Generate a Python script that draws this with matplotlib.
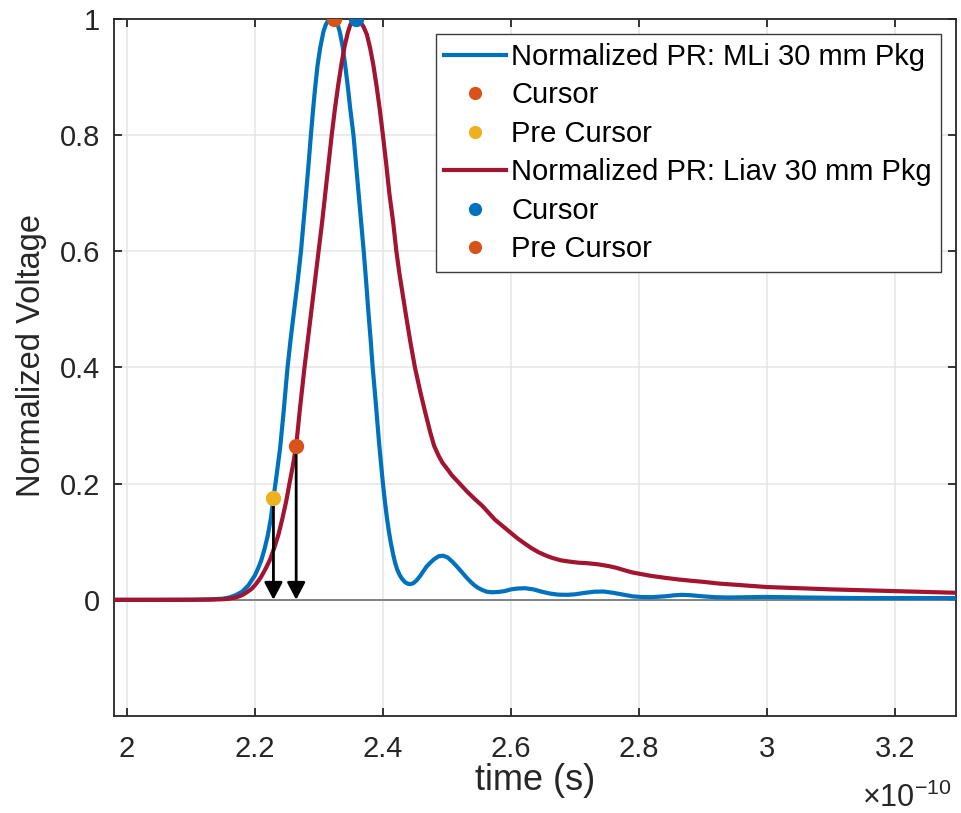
import numpy as np
import matplotlib
matplotlib.use("Agg")
import matplotlib.pyplot as plt

### Data (time in units of 1e-10 s) ###

t_mli = [1.98, 2.05, 2.10, 2.13, 2.15, 2.16, 2.17, 2.18, 2.19, 2.20, 2.205, 2.21,
         2.215, 2.22, 2.225, 2.229, 2.234, 2.2395, 2.245, 2.251, 2.256, 2.2615,
         2.267, 2.272, 2.276, 2.28, 2.284, 2.2875, 2.291, 2.294, 2.298, 2.302,
         2.307, 2.311, 2.315, 2.319, 2.323, 2.327, 2.330, 2.333, 2.337, 2.341,
         2.345, 2.349, 2.354, 2.358, 2.362, 2.366, 2.370, 2.374, 2.377, 2.381,
         2.384, 2.388, 2.391, 2.394, 2.397, 2.400, 2.403, 2.406, 2.409, 2.412,
         2.416, 2.419, 2.422, 2.426, 2.43, 2.434, 2.438, 2.443, 2.448, 2.453,
         2.458, 2.463, 2.468, 2.474, 2.48, 2.487, 2.494, 2.501, 2.508, 2.515,
         2.523, 2.53, 2.537, 2.543, 2.548, 2.555, 2.562, 2.57, 2.58, 2.59, 2.6,
         2.61, 2.622, 2.635, 2.648, 2.66, 2.673, 2.6875, 2.70, 2.715, 2.73, 2.745,
         2.76, 2.775, 2.79, 2.805, 2.82, 2.84, 2.855, 2.867, 2.88, 2.9, 2.92, 2.94,
         2.97, 3.0, 3.03, 3.06, 3.1, 3.15, 3.2, 3.25, 3.3]
v_mli = [0.0, 0.0, 0.0002, 0.0008, 0.002, 0.004, 0.008, 0.014, 0.025, 0.042, 0.054, 0.068,
         0.087, 0.11, 0.14, 0.175, 0.215, 0.262, 0.325, 0.40, 0.45, 0.50,
         0.55, 0.60, 0.65, 0.70, 0.752, 0.80, 0.845, 0.88, 0.921, 0.950,
         0.978, 0.991, 0.998, 1.0, 1.0, 0.996, 0.988, 0.976, 0.953, 0.921,
         0.885, 0.845, 0.80, 0.75, 0.70, 0.65, 0.60, 0.545, 0.50, 0.445,
         0.40, 0.35, 0.31, 0.27, 0.235, 0.20, 0.17, 0.143, 0.12, 0.10,
         0.078, 0.064, 0.053, 0.043, 0.036, 0.031, 0.028, 0.027, 0.029, 0.034,
         0.041, 0.049, 0.057, 0.064, 0.070, 0.075, 0.076, 0.073, 0.066, 0.058,
         0.048, 0.039, 0.031, 0.025, 0.021, 0.017, 0.014, 0.013, 0.0135, 0.015, 0.018,
         0.0195, 0.020, 0.018, 0.014, 0.011, 0.009, 0.0086, 0.0095, 0.012, 0.014, 0.0143,
         0.012, 0.009, 0.006, 0.0048, 0.0046, 0.006, 0.0078, 0.0086, 0.008, 0.006, 0.0045, 0.004,
         0.0045, 0.005, 0.0045, 0.004, 0.0035, 0.003, 0.003, 0.003, 0.003]

t_liav = [1.98, 2.05, 2.10, 2.13, 2.15, 2.16, 2.17, 2.18, 2.1875, 2.195, 2.20, 2.205,
          2.21, 2.217, 2.224, 2.231, 2.237, 2.243, 2.249, 2.254, 2.2595, 2.2645,
          2.2705, 2.2775, 2.283, 2.2885, 2.294, 2.2995, 2.305, 2.310, 2.315, 2.320,
          2.325, 2.330, 2.335, 2.340, 2.345, 2.349, 2.353, 2.358, 2.362, 2.366,
          2.370, 2.375, 2.380, 2.385, 2.390, 2.395, 2.400, 2.405, 2.410, 2.416,
          2.421, 2.426, 2.431, 2.436, 2.443, 2.450, 2.458, 2.466, 2.474, 2.480,
          2.487, 2.493, 2.500, 2.508, 2.52, 2.53, 2.543, 2.555, 2.565, 2.575, 2.587,
          2.599, 2.61, 2.62, 2.632, 2.643, 2.655, 2.665, 2.678, 2.69, 2.705, 2.72,
          2.737, 2.753, 2.765, 2.777, 2.79, 2.805, 2.82, 2.84, 2.862, 2.88, 2.9,
          2.925, 2.95, 2.975, 3.0, 3.05, 3.1, 3.15, 3.2, 3.25, 3.3]
v_liav = [0.0, 0.0, 0.0001, 0.0004, 0.001, 0.002, 0.004, 0.008, 0.013, 0.019, 0.025, 0.032,
          0.04, 0.054, 0.07, 0.092, 0.113, 0.14, 0.17, 0.20, 0.232, 0.265,
          0.33, 0.40, 0.45, 0.50, 0.55, 0.60, 0.65, 0.70, 0.75, 0.80,
          0.845, 0.885, 0.921, 0.952, 0.976, 0.99, 0.997, 1.0, 0.998, 0.993,
          0.986, 0.973, 0.95, 0.921, 0.885, 0.845, 0.80, 0.752, 0.70, 0.65,
          0.60, 0.56, 0.525, 0.49, 0.443, 0.40, 0.36, 0.323, 0.288, 0.265,
          0.248, 0.236, 0.226, 0.214, 0.20, 0.188, 0.174, 0.162, 0.150, 0.138, 0.127,
          0.116, 0.106, 0.098, 0.089, 0.082, 0.076, 0.072, 0.068, 0.066, 0.064, 0.063,
          0.061, 0.058, 0.055, 0.051, 0.047, 0.044, 0.041, 0.038, 0.035, 0.033, 0.031,
          0.028, 0.026, 0.024, 0.022, 0.020, 0.018, 0.0165, 0.015, 0.0135, 0.012]

# cursor / pre cursor points (time, value)
mli_cursor = (2.323, 1.0)
mli_pre = (2.229, 0.175)
liav_cursor = (2.358, 1.0)
liav_pre = (2.2645, 0.265)

xticks = [2, 2.2, 2.4, 2.6, 2.8, 3, 3.2]
yticks = [0, 0.2, 0.4, 0.6, 0.8, 1]

### Colors (MATLAB default order) ###
c_blue = '#0072BD'
c_orange = '#D95319'
c_yellow = '#EDB120'
c_red = '#A2142F'
c_axis = '#262626'

plt.rcParams['font.family'] = ['Liberation Sans', 'DejaVu Sans']
plt.rcParams['mathtext.fontset'] = 'custom'
plt.rcParams['mathtext.rm'] = 'Liberation Sans'

fig = plt.figure(figsize=(9.61, 8.13), dpi=100)
ax = fig.add_axes([114/961, 1-716/813, (956-114)/961, (716-19)/813])

ax.axhline(0, color='#7a7a7a', lw=1.3, zorder=1)

ax.plot(t_mli, v_mli, color=c_blue, lw=3, label='Normalized PR: MLi 30 mm Pkg',
        zorder=3, solid_joinstyle='round')
ax.plot(*mli_cursor, 'o', color=c_orange, ms=10, label='Cursor', zorder=5)
ax.plot(*mli_pre, 'o', color=c_yellow, ms=10, label='Pre Cursor', zorder=5)
ax.plot(t_liav, v_liav, color=c_red, lw=3, label='Normalized PR: Liav 30 mm Pkg',
        zorder=3, solid_joinstyle='round')
ax.plot(*liav_cursor, 'o', color=c_blue, ms=10, label='Cursor', zorder=5)
ax.plot(*liav_pre, 'o', color=c_orange, ms=10, label='Pre Cursor', zorder=5)

# arrows from pre cursor points down to zero
for tp, vp in [mli_pre, liav_pre]:
    ax.annotate('', xy=(tp, 0), xytext=(tp, vp),
                arrowprops=dict(arrowstyle='-|>,head_length=0.42,head_width=0.22',
                                mutation_scale=25, color='black', lw=2,
                                shrinkA=0, shrinkB=0), zorder=4)

ax.set_xlim(1.98, 3.295)
ax.set_ylim(-0.2, 1)
ax.set_xticks(xticks)
ax.set_xticklabels(['%g' % x for x in xticks])
ax.set_yticks(yticks)
ax.set_yticklabels(['%g' % y for y in yticks])

ax.grid(True, color='#e5e5e5', lw=1.1)
ax.set_axisbelow(True)
for s in ax.spines.values():
    s.set_color(c_axis)
    s.set_linewidth(1.3)
ax.tick_params(direction='in', length=6, width=1.3, top=True, right=True,
               labelsize=21, colors=c_axis)
ax.tick_params(axis='x', pad=14)
ax.tick_params(axis='y', pad=10)

ax.set_xlabel('time (s)', fontsize=26, color=c_axis, labelpad=0)
ax.set_ylabel('Normalized Voltage', fontsize=23.5, color=c_axis)
ax.yaxis.set_label_coords(-0.08, 0.5165)

fig.text(952/961, 1-807/813, r'$\times\mathregular{10^{-10}}$', ha='right',
         va='baseline', fontsize=22, color=c_axis)

leg = ax.legend(loc='upper right', bbox_to_anchor=(0.982, 0.9785), fontsize=21,
                frameon=True, fancybox=False, framealpha=1, edgecolor='#3c3c3c',
                handlelength=2.1, handletextpad=0.2, labelspacing=0.36,
                borderpad=0.3, borderaxespad=0, markerscale=0.85)
leg.get_frame().set_linewidth(1.0)

fig.savefig('out.png', dpi=100)
